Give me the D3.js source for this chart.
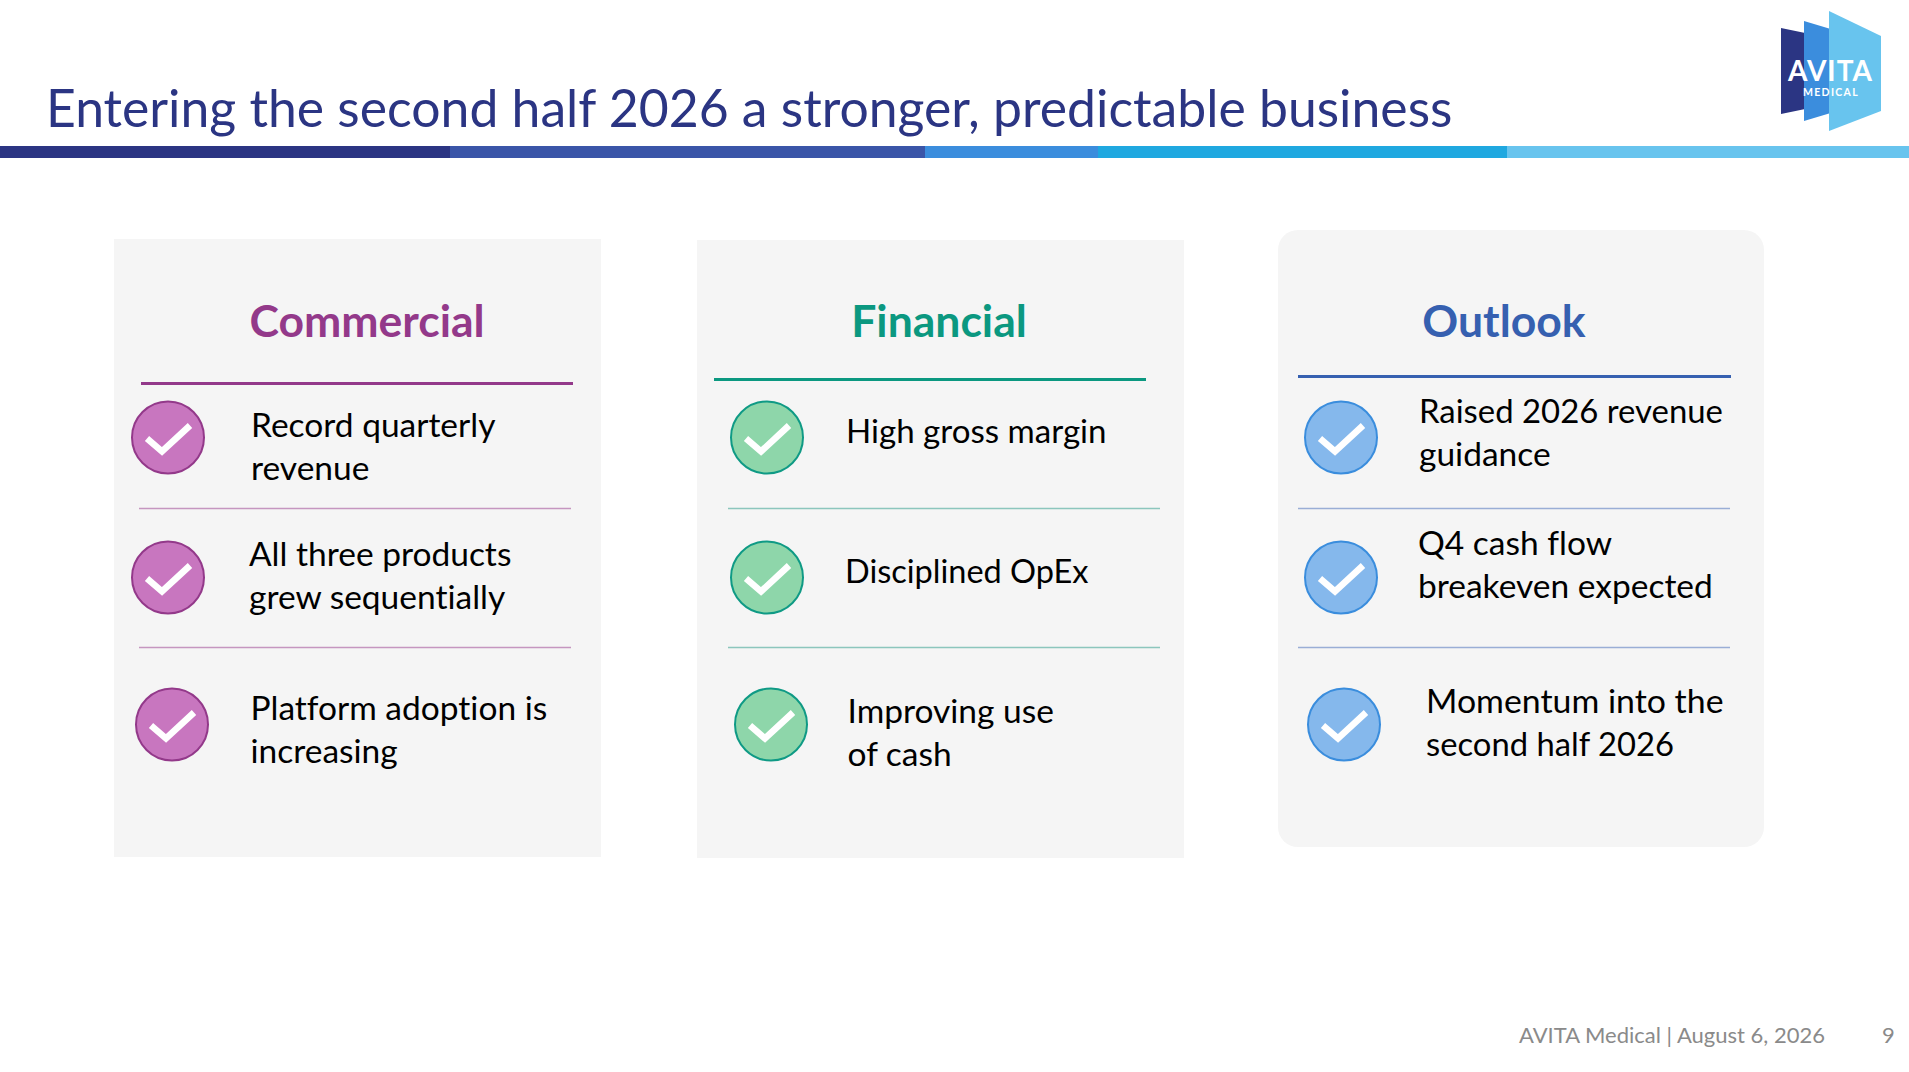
<!DOCTYPE html>
<html><head><meta charset="utf-8">
<script src="https://cdn.jsdelivr.net/npm/d3@7"></script>
<style>html,body{margin:0;padding:0;background:#fff;overflow:hidden}svg{display:block}text{font-family:Lato,sans-serif;font-variant-ligatures:none}</style>
</head><body><svg id="c" width="1909" height="1072"></svg>
<script>
const titleText = "Entering the second half 2026 a stronger, predictable business";
const footerText = "AVITA Medical | August 6, 2026";
const pageNumber = "9";
const categories = ["Commercial", "Financial", "Outlook"];
const commercialItems = [["Record quarterly","revenue"],["All three products","grew sequentially"],["Platform adoption is","increasing"]];
const financialItems = [["High gross margin"],["Disciplined OpEx"],["Improving use","of cash"]];
const outlookItems = [["Raised 2026 revenue","guidance"],["Q4 cash flow","breakeven expected"],["Momentum into the","second half 2026"]];
const items = [commercialItems, financialItems, outlookItems];
const headColors = ["#93398a","#0b9880","#3660b0"];
const fillColors = ["#c876bf","#8ed6aa","#85b8ec"];
const strokeColors = ["#93398a","#0f9a85","#3a8ddd"];
const sepColors = ["#c596c0","#8cc6bd","#9aaed6"];

// layout
const panels = [
 {x:114,y:239,w:487,h:618,r:0,hc:367,ul:[141,573,383.5],sep:[139,571],cx:[168,168,172],tx:[251,249,250.5],ty:[437,566,719.5]},
 {x:697,y:240,w:487,h:618,r:0,hc:939,ul:[714,1146,379.5],sep:[728,1160],cx:[767,767,771],tx:[846,845,847.5],ty:[443,583,723]},
 {x:1278,y:230,w:486,h:617,r:20,hc:1504,ul:[1298,1731,376.5],sep:[1298,1730],cx:[1341,1341,1344],tx:[1419,1418,1426],ty:[423,555,713]}
];
const fitWidth = new Map([["Disciplined OpEx",243.5],["Raised 2026 revenue",304],["second half 2026",248],["Momentum into the",297.5],["High gross margin",260.5]]);
const rowY = d3.scaleOrdinal().domain([0,1,2]).range([437.5,577.5,724.5]);
const sepY = [508.5,647.5];
const svg = d3.select("#c");

// rule
const ruleStops=[0,450,925,1098,1507,1909];
const ruleColors=["#2b3583","#3a55a8","#3b8ddd","#1fa8e0","#68c4ee"];
svg.selectAll("rect.rule").data(ruleColors).join("rect").attr("class","rule")
 .attr("x",(d,i)=>ruleStops[i]).attr("width",(d,i)=>ruleStops[i+1]-ruleStops[i])
 .attr("y",146).attr("height",12).attr("fill",d=>d);

svg.append("text").attr("x",46).attr("y",127).attr("font-size",51.7).attr("fill","#2b3583").text(titleText);

// logo
const logo=[["#2b3583","1781,28 1810,34 1810,108 1781,114"],["#3b8ddd","1804,21 1834,30 1834,112 1804,121"],["#68c4ee","1829,11 1881,36 1881,111 1829,131"]];
svg.selectAll("polygon.logo").data(logo).join("polygon").attr("class","logo").attr("fill",d=>d[0]).attr("points",d=>d[1]);
svg.append("text").attr("x",1830.5).attr("y",81).attr("text-anchor","middle").attr("font-size",28).attr("font-weight",700).attr("letter-spacing",1).attr("fill","#fff").text("AVITA");
svg.append("text").attr("x",1831).attr("y",96).attr("text-anchor","middle").attr("font-size",10.5).attr("font-weight",700).attr("letter-spacing",1.3).attr("fill","#fff").text("MEDICAL");

panels.forEach((p,pi)=>{
 const g=svg.append("g");
 g.append("rect").attr("x",p.x).attr("y",p.y).attr("width",p.w).attr("height",p.h).attr("rx",p.r).attr("fill","#f5f5f5");
 g.append("text").attr("x",p.hc).attr("y",337).attr("text-anchor","middle").attr("font-size",44.5).attr("font-weight",700).attr("fill",headColors[pi]).text(categories[pi]);
 g.append("line").attr("x1",p.ul[0]).attr("x2",p.ul[1]).attr("y1",p.ul[2]).attr("y2",p.ul[2]).attr("stroke",headColors[pi]).attr("stroke-width",3);
 sepY.forEach(y=>g.append("line").attr("x1",p.sep[0]).attr("x2",p.sep[1]).attr("y1",y).attr("y2",y).attr("stroke",sepColors[pi]).attr("stroke-width",1.5));
 items[pi].forEach((lines,i)=>{
  const cy=rowY(i),cx=p.cx[i];
  g.append("circle").attr("cx",cx).attr("cy",cy).attr("r",36).attr("fill",fillColors[pi]).attr("stroke",strokeColors[pi]).attr("stroke-width",2);
  g.append("path").attr("d",d3.line()([[cx-21,cy+1],[cx-6,cy+14],[cx+22,cy-12]])).attr("fill","none").attr("stroke","#fff").attr("stroke-width",6.5);
  lines.forEach((t,j)=>{
   const el=g.append("text").attr("x",p.tx[i]).attr("y",p.ty[i]+j*43).attr("font-size",33.5).attr("fill","#000").text(t);
   if(fitWidth.has(t)) el.attr("textLength",fitWidth.get(t)).attr("lengthAdjust","spacingAndGlyphs");
  });
 });
});
svg.append("text").attr("x",1519).attr("y",1043).attr("font-size",22).attr("fill","#8a8a8a").text(footerText);
svg.append("text").attr("x",1882).attr("y",1043).attr("font-size",22).attr("fill","#8a8a8a").text(pageNumber);
</script></body></html>
